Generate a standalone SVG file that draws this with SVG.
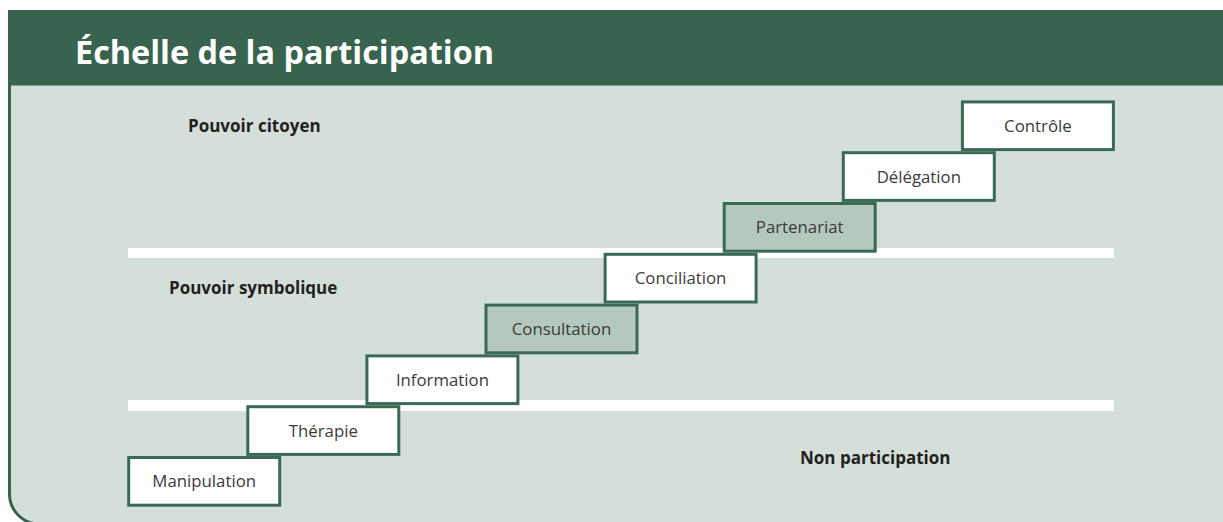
<svg xmlns="http://www.w3.org/2000/svg" width="1223" height="522" viewBox="0 0 1223 522">
<style>
.box{stroke:#3a6a55;stroke-width:3}
.w{fill:#ffffff}
.s{fill:#b5c8be}
.bt{font-family:"Open Sans","Liberation Sans",sans-serif;font-size:16.8px;fill:#3a3a3a;text-anchor:middle}
.lbl{font-family:"Open Sans","Liberation Sans",sans-serif;font-size:17px;font-weight:bold;fill:#231f20}
.band{fill:#ffffff}
</style>
<rect x="0" y="0" width="1223" height="522" fill="#ffffff"/>
<g id="panel">
<path d="M9.5,84 V494 A30,30 0 0 0 39.5,524 H1230 V84 Z" fill="#d4dfd9" stroke="#37634f" stroke-width="3"/>
<rect x="8" y="10" width="1215" height="74" fill="#37634f"/>
<text x="75" y="63.5" font-family="'Open Sans','Liberation Sans',sans-serif" font-size="32.4" font-weight="bold" fill="#ffffff">Échelle de la participation</text>
</g>
<g id="bands">
<rect class="band" x="128" y="248" width="986" height="10"/>
<rect class="band" x="128" y="400" width="986" height="11"/>
</g>
<g id="labels">
<text class="lbl" x="188" y="132">Pouvoir citoyen</text>
<text class="lbl" x="169" y="294">Pouvoir symbolique</text>
<text class="lbl" x="800" y="464">Non participation</text>
</g>
<g id="manipulation"><rect class="box w" x="128.7" y="457.5" width="151" height="47.7"/><text class="bt" x="204.2" y="487.3">Manipulation</text></g>
<g id="therapie"><rect class="box w" x="247.8" y="406.7" width="151" height="47.7"/><text class="bt" x="323.3" y="436.5">Thérapie</text></g>
<g id="information"><rect class="box w" x="366.9" y="355.9" width="151" height="47.7"/><text class="bt" x="442.4" y="385.7">Information</text></g>
<g id="consultation"><rect class="box s" x="486.0" y="305.1" width="151" height="47.7"/><text class="bt" x="561.5" y="334.9">Consultation</text></g>
<g id="conciliation"><rect class="box w" x="605.1" y="254.3" width="151" height="47.7"/><text class="bt" x="680.6" y="284.1">Conciliation</text></g>
<g id="partenariat"><rect class="box s" x="724.2" y="203.5" width="151" height="47.7"/><text class="bt" x="799.7" y="233.3">Partenariat</text></g>
<g id="delegation"><rect class="box w" x="843.3" y="152.7" width="151" height="47.7"/><text class="bt" x="918.8" y="182.5">Délégation</text></g>
<g id="controle"><rect class="box w" x="962.4" y="101.9" width="151" height="47.7"/><text class="bt" x="1037.9" y="131.7">Contrôle</text></g>
</svg>
